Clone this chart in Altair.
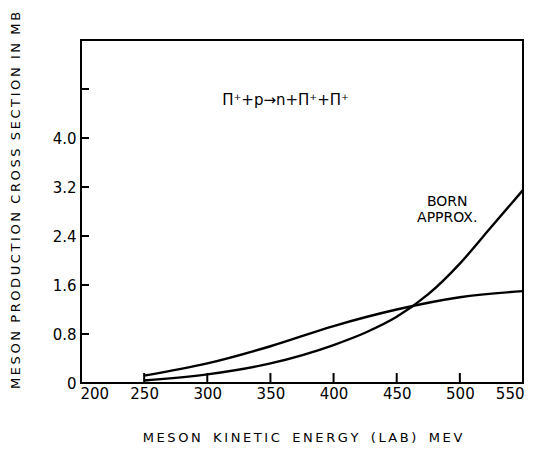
import altair as alt
import pandas as pd

# ---- data ----
energy = [250, 300, 350, 400, 450, 500, 550]
plain_cs = [0.12, 0.32, 0.60, 0.93, 1.20, 1.40, 1.50]

born_energy = [250, 300, 350, 400, 425, 450, 475, 500, 525, 550]
born_cs = [0.04, 0.14, 0.32, 0.62, 0.82, 1.08, 1.45, 1.95, 2.55, 3.15]

x_label_values = [200, 250, 300, 350, 400, 450, 500, 550]
x_tick_values = [250, 300, 350, 400, 450, 500]
y_label_values = [0, 0.8, 1.6, 2.4, 3.2, 4.0]
y_tick_values = [0.8, 1.6, 2.4, 3.2, 4.0, 4.8]

ann_text = ["BORN\nAPPROX.", "Π⁺+p→n+Π⁺+Π⁺"]
ann_x = [490, 362]
ann_y = [2.95, 4.62]
ann_size = [14, 15]

FONT = "DejaVu Sans"
W, H = 442, 343


def spaced(s, gap="\u2009", word="\u00a0\u00a0"):
    return word.join(gap.join(w) for w in s.split(" "))


xscale = alt.Scale(domain=[200, 550], nice=False, zero=False)
yscale = alt.Scale(domain=[0, 5.6], nice=False, zero=True)

xaxis = alt.Axis(
    values=x_label_values, tickSize=0, domain=False, grid=False,
    labelFont=FONT, labelFontSize=15, labelColor="black", labelPadding=3,
    labelFlush=True, labelFlushOffset=1, labelOverlap=False,
    title=spaced("MESON KINETIC ENERGY (LAB) MEV", word="\u00a0\u00a0\u00a0"),
    titleFont=FONT, titleFontSize=13, titleFontWeight="normal",
    titleColor="black", titlePadding=30,
)
yaxis = alt.Axis(
    values=y_label_values, tickSize=0, domain=False, grid=False,
    labelExpr="datum.value == 0 ? '0' : format(datum.value, '.1f')",
    labelFont=FONT, labelFontSize=15, labelColor="black", labelPadding=5,
    labelFlush=False, labelOverlap=False,
    title=spaced("MESON PRODUCTION CROSS SECTION IN MB"),
    titleFont=FONT, titleFontSize=13, titleFontWeight="normal",
    titleColor="black", titlePadding=30, titleY=160,
)

curves = pd.concat([
    pd.DataFrame({"E": energy, "cs": plain_cs, "series": "plain"}),
    pd.DataFrame({"E": born_energy, "cs": born_cs, "series": "born"}),
])

lines = alt.Chart(curves).mark_line(
    color="black", strokeWidth=2.4, interpolate="monotone"
).encode(
    x=alt.X("E:Q", scale=xscale, axis=xaxis),
    y=alt.Y("cs:Q", scale=yscale, axis=yaxis),
    detail="series:N",
)

yticks = alt.Chart(pd.DataFrame({"v": y_tick_values})).mark_rule(
    color="black", strokeWidth=2
).encode(
    y=alt.Y("v:Q", scale=yscale, axis=yaxis),
    x=alt.value(0), x2=alt.value(8),
)

xticks = alt.Chart(pd.DataFrame({"v": x_tick_values})).mark_rule(
    color="black", strokeWidth=2
).encode(
    x=alt.X("v:Q", scale=xscale, axis=xaxis),
    y=alt.value(H), y2=alt.value(H - 10),
)

ann = alt.Chart(pd.DataFrame({"t": ann_text, "x": ann_x, "y": ann_y, "s": ann_size})).mark_text(
    font=FONT, color="black", align="center", baseline="middle", lineBreak="\n"
).encode(
    x=alt.X("x:Q", scale=xscale, axis=xaxis),
    y=alt.Y("y:Q", scale=yscale, axis=yaxis),
    text="t:N",
    size=alt.Size("s:Q", scale=None, legend=None),
)

chart = alt.layer(lines, yticks, xticks, ann).properties(
    width=W, height=H,
    autosize=alt.AutoSizeParams(type="none"),
    padding={"left": 81, "top": 40, "right": 16, "bottom": 67},
    background="white",
).configure_view(stroke="black", strokeWidth=2)

chart.save("out.html", embed_options={"renderer": "svg", "actions": False})
